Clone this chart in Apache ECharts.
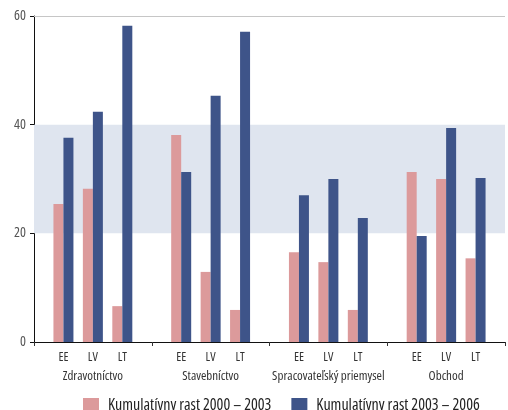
<!DOCTYPE html>
<html>
<head>
<meta charset="utf-8">
<script src="https://cdn.jsdelivr.net/npm/echarts@6/dist/echarts.min.js"></script>
<style>
  html, body { margin: 0; padding: 0; background: #fff; }
  #chart { width: 508px; height: 410px; }
</style>
</head>
<body>
<div id="chart"></div>
<script>
// Sectors and the country codes shown under each bar pair
const groups = ['Zdravotníctvo', 'Stavebníctvo', 'Spracovateľský priemysel', 'Obchod'];
const countries = ['EE', 'LV', 'LT'];

// Cumulative growth (%), ordered sector by sector, EE/LV/LT inside each sector
const rast2000_2003 = [25.4, 28.2, 6.6, 38.1, 12.9, 5.9, 16.5, 14.7, 5.9, 31.3, 30.0, 15.4];
const rast2003_2006 = [37.6, 42.4, 58.2, 31.3, 45.3, 57.1, 27.0, 30.0, 22.8, 19.5, 39.4, 30.2];

const seriesNames = ['Kumulatívny rast 2000 – 2003', 'Kumulatívny rast 2003 – 2006'];
const yTicks = [0, 20, 40, 60];
const bandRange = [20, 40];

// Open Sans is a variable font; the stretch keyword selects its condensed width
const FONT = '"Open Sans", "Noto Sans", sans-serif';
const STRETCH = 'condensed';

// Country slots with an empty slot at every sector boundary
const slotLabels = [''];
const slotIndex = [];
groups.forEach(() => {
  countries.forEach((c) => {
    slotIndex.push(slotLabels.length);
    slotLabels.push(c);
  });
  slotLabels.push('');
});
function toSlots(values) {
  const out = slotLabels.map(() => null);
  values.forEach((v, i) => { out[slotIndex[i]] = v; });
  return out;
}

const chart = echarts.init(document.getElementById('chart'), null, { renderer: 'canvas' });
chart.setOption({
  animation: false,
  backgroundColor: '#ffffff',
  textStyle: { fontFamily: FONT, fontWeight: STRETCH },
  grid: { left: 34, top: 16, width: 480, bottom: 68, containLabel: false },
  legend: {
    left: 78,
    top: 392,
    itemWidth: 16,
    itemHeight: 14,
    itemGap: 20,
    icon: 'rect',
    textStyle: { fontFamily: FONT, fontWeight: STRETCH, fontSize: 16, color: '#222', padding: [0, 0, 0, 4] },
    data: seriesNames
  },
  xAxis: [
    {
      type: 'category',
      data: slotLabels,
      boundaryGap: false,
      axisLine: { show: true, lineStyle: { color: '#111', width: 1 } },
      axisTick: { show: false },
      axisLabel: { interval: 0, fontFamily: FONT, fontWeight: STRETCH, fontSize: 12.5, color: '#333', margin: 9 },
      splitLine: { show: false }
    },
    {
      type: 'category',
      data: groups,
      position: 'bottom',
      boundaryGap: true,
      axisLine: { show: false },
      axisTick: { show: true, length: 4, lineStyle: { color: '#333' } },
      axisLabel: { interval: 0, fontFamily: FONT, fontWeight: STRETCH, fontSize: 13, color: '#333', margin: 28 },
      splitLine: { show: false }
    }
  ],
  yAxis: {
    type: 'value',
    min: yTicks[0],
    max: yTicks[yTicks.length - 1],
    interval: 20,
    axisLine: { show: true, lineStyle: { color: '#111', width: 1 } },
    axisTick: { show: true, length: 4, lineStyle: { color: '#111' } },
    axisLabel: { fontFamily: FONT, fontWeight: STRETCH, fontSize: 14, color: '#555', margin: 8 },
    splitLine: { show: false }
  },
  series: [
    {
      name: seriesNames[0],
      type: 'bar',
      xAxisIndex: 0,
      data: toSlots(rast2000_2003),
      barWidth: 10,
      barGap: '0%',
      itemStyle: { color: '#dc9a9b' },
      markArea: {
        silent: true,
        itemStyle: { color: '#dfe5ef' },
        data: [[{ yAxis: bandRange[0] }, { yAxis: bandRange[1] }]]
      },
      markLine: {
        silent: true,
        symbol: ['none', 'none'],
        label: { show: false },
        lineStyle: { color: '#c6c6c6', width: 1, type: 'solid' },
        data: [{ yAxis: yTicks[yTicks.length - 1] }]
      }
    },
    {
      name: seriesNames[1],
      type: 'bar',
      xAxisIndex: 0,
      data: toSlots(rast2003_2006),
      barWidth: 10,
      barGap: '0%',
      itemStyle: { color: '#3e5489' }
    }
  ]
});
</script>
</body>
</html>
